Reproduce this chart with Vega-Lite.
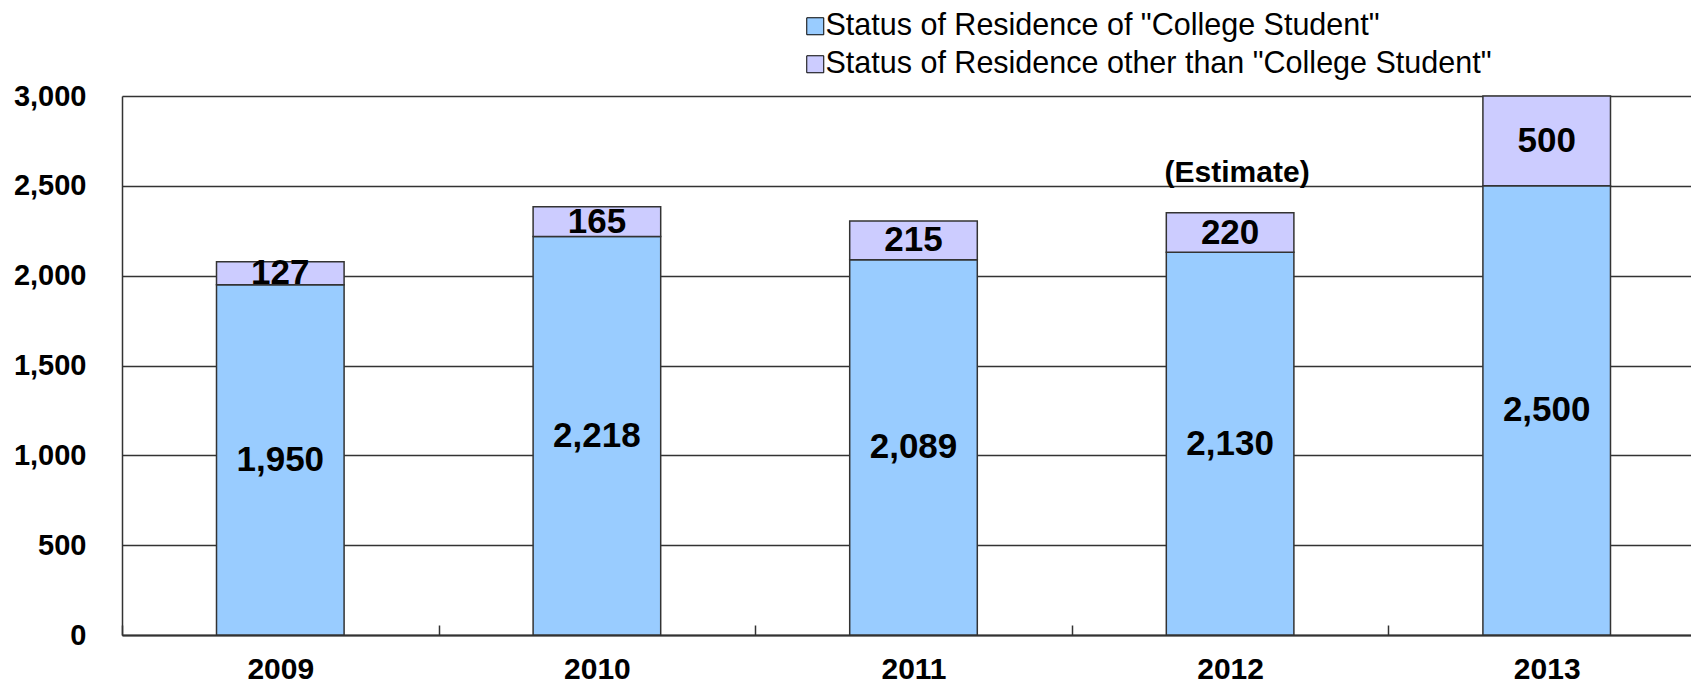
{
  "$schema": "https://vega.github.io/schema/vega-lite/v6.json",
  "width": 1569,
  "height": 539,
  "autosize": {"type": "none"},
  "padding": {"left": 122, "top": 96, "right": 0, "bottom": 49},
  "background": "white",
  "config": {"view": {"stroke": null}, "font": "Liberation Sans"},
  "data": {
    "values": [
      {"year": "2009", "type": "Status of Residence of \"College Student\"", "value": 1950},
      {"year": "2009", "type": "Status of Residence other than \"College Student\"", "value": 127},
      {"year": "2010", "type": "Status of Residence of \"College Student\"", "value": 2218},
      {"year": "2010", "type": "Status of Residence other than \"College Student\"", "value": 165},
      {"year": "2011", "type": "Status of Residence of \"College Student\"", "value": 2089},
      {"year": "2011", "type": "Status of Residence other than \"College Student\"", "value": 215},
      {"year": "2012", "type": "Status of Residence of \"College Student\"", "value": 2130},
      {"year": "2012", "type": "Status of Residence other than \"College Student\"", "value": 220},
      {"year": "2013", "type": "Status of Residence of \"College Student\"", "value": 2500},
      {"year": "2013", "type": "Status of Residence other than \"College Student\"", "value": 500}
    ]
  },
  "encoding": {
    "x": {
      "field": "year",
      "type": "nominal",
      "scale": {"range": [0, 1583], "paddingInner": 0, "paddingOuter": 0},
      "axis": {
        "title": null,
        "labelAngle": 0,
        "tickBand": "extent",
        "tickSize": -10,
        "tickColor": "#333",
        "tickWidth": 1.5,
        "domainColor": "#333",
        "domainWidth": 2,
        "labelFontSize": 30,
        "labelFontWeight": "bold",
        "labelColor": "#000",
        "labelPadding": 29
      }
    }
  },
  "layer": [
    {
      "mark": {"type": "bar", "stroke": "#333", "strokeWidth": 1.5, "width": {"band": 0.403}},
      "encoding": {
        "y": {
          "field": "value",
          "type": "quantitative",
          "stack": "zero",
          "scale": {"domain": [0, 3000], "nice": false},
          "axis": {
            "title": null,
            "values": [0, 500, 1000, 1500, 2000, 2500, 3000],
            "format": ",d",
            "ticks": false,
            "domainColor": "#333",
            "domainWidth": 1.5,
            "gridColor": "#333",
            "gridWidth": 1.5,
            "gridOpacity": 1,
            "labelFontSize": 29,
            "labelFontWeight": "bold",
            "labelColor": "#000",
            "labelPadding": 36
          }
        },
        "order": {"field": "type", "type": "nominal", "sort": "ascending"},
        "color": {
          "field": "type",
          "type": "nominal",
          "sort": ["Status of Residence of \"College Student\"", "Status of Residence other than \"College Student\""],
          "scale": {
            "domain": ["Status of Residence of \"College Student\"", "Status of Residence other than \"College Student\""],
            "range": ["#99CCFF", "#CCCCFF"]
          },
          "legend": {
            "orient": "none",
            "legendX": 678,
            "legendY": -85,
            "title": null,
            "symbolType": "square",
            "symbolSize": 289,
            "symbolStrokeColor": "#000",
            "symbolStrokeWidth": 1,
            "labelFontSize": 30.5,
            "labelColor": "#000",
            "labelLimit": 0,
            "labelOffset": -5,
            "rowPadding": 7
          }
        }
      }
    },
    {
      "transform": [
        {"stack": "value", "groupby": ["year"], "sort": [{"field": "type", "order": "ascending"}], "as": ["v0", "v1"]},
        {"calculate": "(datum.v0 + datum.v1) / 2", "as": "mid"}
      ],
      "mark": {"type": "text", "fontSize": 35, "fontWeight": "bold", "color": "#000", "baseline": "middle"},
      "encoding": {
        "y": {"field": "mid", "type": "quantitative"},
        "text": {"field": "value", "type": "quantitative", "format": ",d"}
      }
    },
    {
      "data": {"values": [{"note": "(Estimate)"}]},
      "mark": {"type": "text", "fontSize": 30, "fontWeight": "bold", "color": "#000", "baseline": "alphabetic", "dy": -4, "dx": 7},
      "encoding": {
        "x": {"datum": "2012"},
        "y": {"datum": 2500},
        "text": {"field": "note"}
      }
    }
  ]
}
